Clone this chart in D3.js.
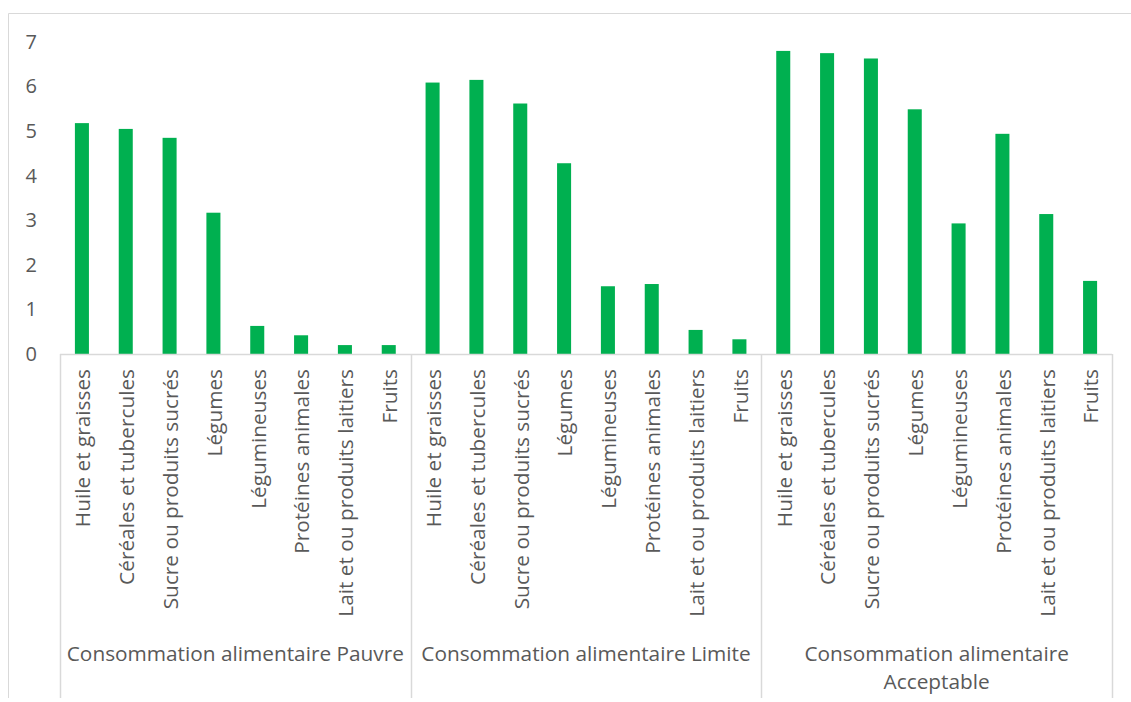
<!DOCTYPE html>
<html><head><meta charset="utf-8">
<script src="https://cdn.jsdelivr.net/npm/d3@7"></script>
<style>body{margin:0;background:#fff}svg{display:block}text{font-family:"Open Sans",sans-serif;fill:#595959}</style>
</head><body><svg id="c" width="1131" height="702"></svg>
<script>
const groups = ["Consommation alimentaire Pauvre", "Consommation alimentaire Limite", "Consommation alimentaire Acceptable"];
const groupLines = [["Consommation alimentaire Pauvre"], ["Consommation alimentaire Limite"], ["Consommation alimentaire", "Acceptable"]];
const items = ["Huile et graisses", "Céréales et tubercules", "Sucre ou produits sucrés", "Légumes", "Légumineuses", "Protéines animales", "Lait et ou produits laitiers", "Fruits"];
const valuesPauvre = [5.18, 5.05, 4.85, 3.17, 0.63, 0.42, 0.2, 0.2];
const valuesLimite = [6.09, 6.15, 5.62, 4.28, 1.52, 1.57, 0.54, 0.33];
const valuesAcceptable = [6.80, 6.75, 6.63, 5.49, 2.93, 4.94, 3.14, 1.64];
const yTicks = [0, 1, 2, 3, 4, 5, 6, 7];

const allValues = [valuesPauvre, valuesLimite, valuesAcceptable];
const data = [];
groups.forEach((g, gi) => items.forEach((it, ii) => data.push({key: gi + "|" + ii, group: g, gi, item: it, value: allValues[gi][ii]})));

const svg = d3.select("#c");
const pLeft = 60, pRight = 1112, pTop = 42, pBottom = 354, sepBottom = 698;
const x = d3.scaleBand().domain(data.map(d => d.key)).range([pLeft, pRight]).paddingInner(0.68).paddingOuter(0.34);
const y = d3.scaleLinear().domain([0, 7]).range([pBottom, pTop]);
const gx = d3.scaleBand().domain(groups).range([pLeft, pRight]);
const grid = "#d9d9d9";

// outer frame
svg.append("path").attr("d", `M8.5,${sepBottom} V13.5 H1131`).attr("fill", "none").attr("stroke", grid).attr("stroke-width", 1);

// bars
svg.append("g").selectAll("rect").data(data).join("rect")
  .attr("x", d => x(d.key)).attr("width", x.bandwidth())
  .attr("y", d => y(d.value)).attr("height", d => y(0) - y(d.value))
  .attr("fill", "#00B050");

// y axis labels
const ya = svg.append("g").attr("transform", `translate(${pLeft},0)`)
  .call(d3.axisLeft(y).tickValues(yTicks).tickSize(0).tickPadding(23).tickFormat(d3.format("d")));
ya.select(".domain").remove();
ya.selectAll("text").style("font-size", "20px").attr("fill", "#595959").style("font-family", '"Open Sans",sans-serif');

// x axis line
svg.append("line").attr("x1", pLeft).attr("x2", pRight).attr("y1", pBottom + 0.5).attr("y2", pBottom + 0.5).attr("stroke", grid).attr("stroke-width", 1.5);
// separators
const seps = [pLeft, ...groups.map(g => gx(g) + gx.bandwidth())];
svg.append("g").selectAll("line").data(seps).join("line")
  .attr("x1", d => Math.round(d) + 0.5).attr("x2", d => Math.round(d) + 0.5)
  .attr("y1", pBottom).attr("y2", sepBottom).attr("stroke", grid).attr("stroke-width", 1.5);

// category labels
svg.append("g").selectAll("text").data(data).join("text")
  .attr("transform", d => `translate(${x(d.key) + x.bandwidth() / 2 + 1},369) rotate(-90)`)
  .attr("text-anchor", "end").attr("dy", "0.35em").style("font-size", "20.8px")
  .text(d => d.item);

// group labels
const gl = svg.append("g").selectAll("text").data(groups).join("text")
  .attr("x", g => gx(g) + gx.bandwidth() / 2).attr("y", 661)
  .attr("text-anchor", "middle").style("font-size", "20.8px");
gl.each(function(g, i) {
  d3.select(this).selectAll("tspan").data(groupLines[i]).join("tspan")
    .attr("x", gx(g) + gx.bandwidth() / 2).attr("dy", (d, j) => j ? 28 : 0).text(d => d);
});
</script></body></html>
